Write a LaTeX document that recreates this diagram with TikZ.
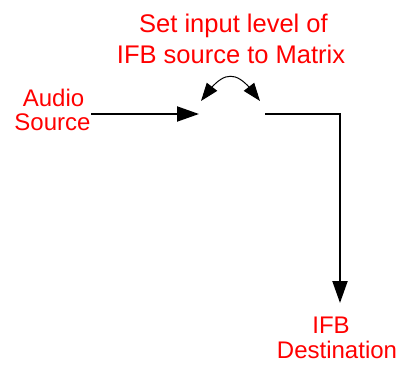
\documentclass[tikz,border=0pt]{standalone}
\usepackage{fontspec}
\setmainfont{Liberation Sans}
\usetikzlibrary{arrows.meta,bending}
\begin{document}
\begin{tikzpicture}[x=1pt,y=-1pt,
  lbl/.style={text=red,font=\fontsize{24}{28}\selectfont,anchor=base,inner sep=0pt},
  biglbl/.style={lbl,font=\fontsize{25.5}{30}\selectfont},
  mainline/.style={line width=2pt,-{Triangle[length=22pt,width=15pt]}},
  swap/.style={line width=1pt,{Triangle[length=18pt,width=13pt]}-{Triangle[length=18pt,width=13pt]}}]
\useasboundingbox (0,0) rectangle (401,366);
\node[biglbl] (t1) at (233.5,33) {Set input level of};
\node[biglbl] (t2) at (231,64) {IFB source to Matrix};
\node[lbl] (s1) at (53.5,107) {Audio};
\node[lbl] (s2) at (52.5,131) {Source};
\node[lbl] (d1) at (331,333) {IFB};
\node[lbl] (d2) at (337,358) {Destination};
\coordinate (in) at (91,114);
\coordinate (intip) at (199,114);
\coordinate (out) at (265,114);
\coordinate (corner) at (340,114);
\coordinate (dtip) at (340,303);
\coordinate (swl) at (201,101);
\coordinate (swr) at (260,101);
\draw[mainline] (in) -- (intip);
\draw[mainline] (out) -- (corner) -- (dtip);
\draw[swap] (swl) .. controls (224,68) and (237,68) .. (swr);
\end{tikzpicture}
\end{document}
